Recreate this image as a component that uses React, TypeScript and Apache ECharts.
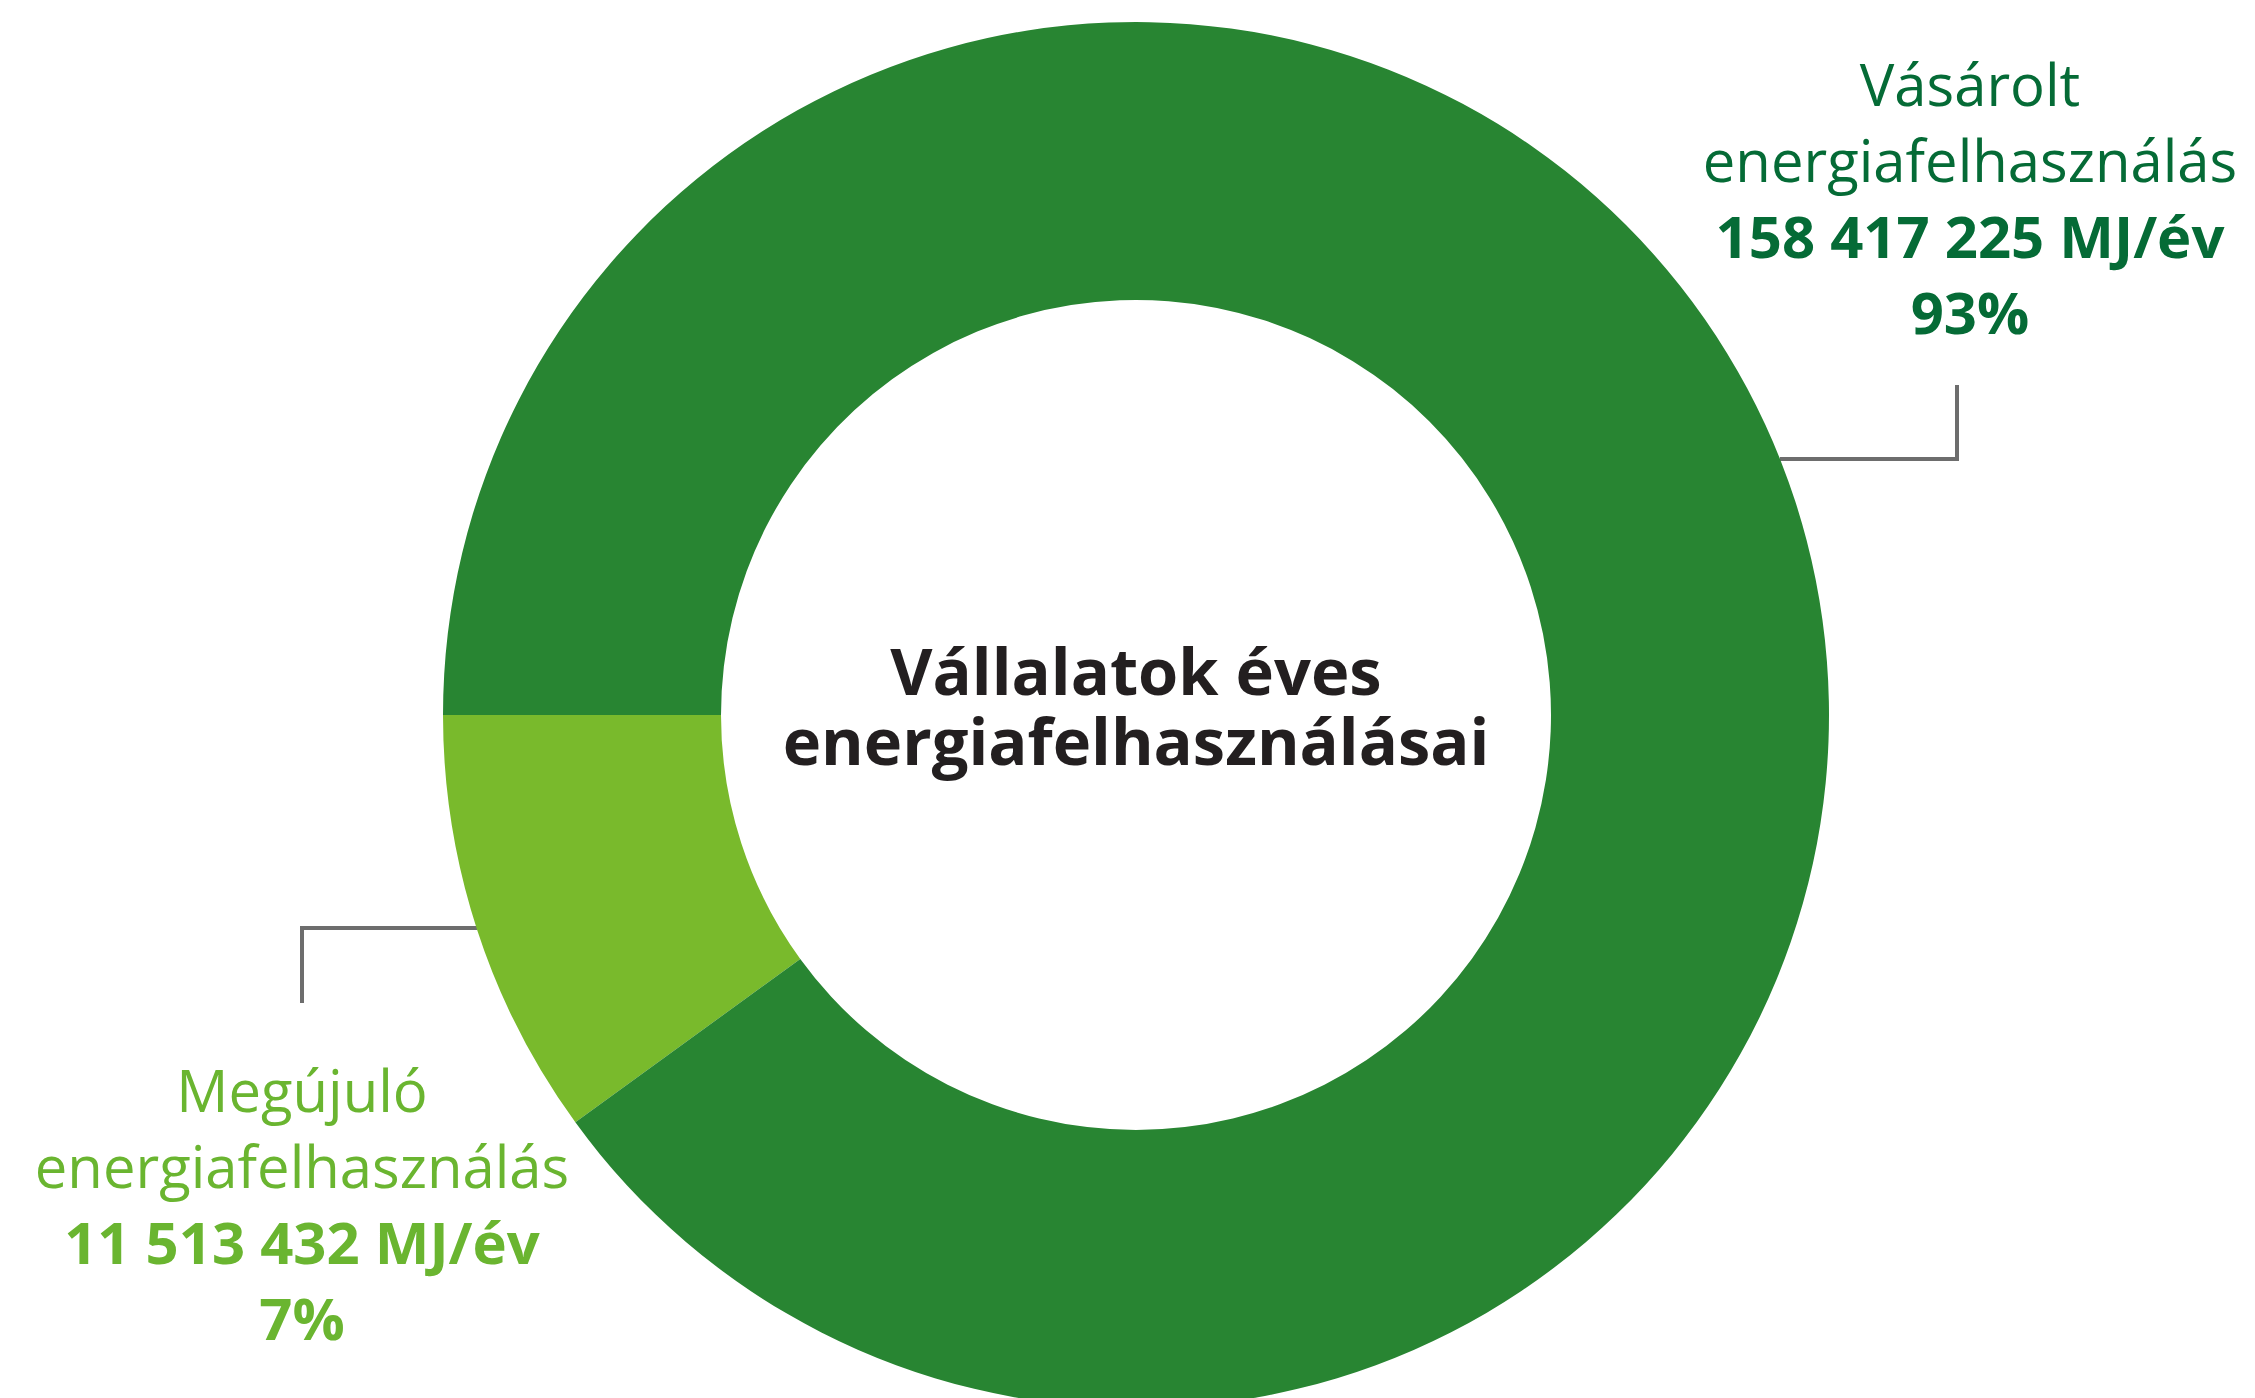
import React, { useEffect, useRef } from "react";
import * as echarts from "echarts";

// ---- data ----
const categories = ["Megújuló energiafelhasználás", "Vásárolt energiafelhasználás"];
const energyMJ = [11513432, 158417225];
const energyLabels = ["11 513 432 MJ/év", "158 417 225 MJ/év"];
const percentLabels = ["7%", "93%"];
// slice sizes as they are drawn in the reference (the light slice spans ~36°)
const drawnShares = [10, 90];
const nameLines = [
  ["Megújuló", "energiafelhasználás"],
  ["Vásárolt", "energiafelhasználás"],
];
const titleLines = ["Vállalatok éves", "energiafelhasználásai"];

const sliceColors = ["#79ba2c", "#288532"];
const labelColors = ["#6ab530", "#056b36"];
const FONT = "'Open Sans', 'Noto Sans', sans-serif";

export default function App() {
  const ref = useRef<HTMLDivElement>(null);

  useEffect(() => {
    document.body.style.margin = "0";
    if (!ref.current) return;
    const chart = echarts.init(ref.current, undefined, { renderer: "svg" });

    const cx = 1136;
    const cy = 715;
    const fs = 58;
    const lh = 76;
    const base = (b: number, size: number) => b - size * 0.35;

    const labelBlock = (i: number, x: number, firstBaseline: number) => {
      const lines = [
        { t: nameLines[i][0], w: 400 },
        { t: nameLines[i][1], w: 400 },
        { t: energyLabels[i], w: 700 },
        { t: percentLabels[i], w: 700 },
      ];
      return lines.map((l, k) => ({
        type: "text",
        style: {
          text: l.t,
          x,
          y: base(firstBaseline + k * lh, fs),
          fill: labelColors[i],
          font: `${l.w} ${fs}px ${FONT}`,
          textAlign: "center",
          textVerticalAlign: "middle",
        },
      }));
    };

    const titleSize = 65;
    const graphics: any[] = [
      {
        type: "text",
        style: {
          text: titleLines.join("\n"),
          x: cx,
          y: 705,
          fill: "#231f20",
          font: `700 ${titleSize}px ${FONT}`,
          lineHeight: 70,
          textAlign: "center",
          textVerticalAlign: "middle",
        },
      },
      ...labelBlock(0, 302, 1110),
      ...labelBlock(1, 1970, 104),
      {
        type: "polyline",
        shape: { points: [[477, 928], [302, 928], [302, 1003]] },
        style: { stroke: "#6d6d6d", lineWidth: 4, fill: "none" },
      },
      {
        type: "polyline",
        shape: { points: [[1780, 459], [1957, 459], [1957, 385]] },
        style: { stroke: "#6d6d6d", lineWidth: 4, fill: "none" },
      },
    ];

    chart.setOption({
      animation: false,
      backgroundColor: "#ffffff",
      series: [
        {
          type: "pie",
          center: [cx, cy],
          radius: [415, 693],
          startAngle: 216,
          clockwise: true,
          silent: true,
          label: { show: false },
          labelLine: { show: false },
          itemStyle: { borderWidth: 0 },
          data: categories.map((name, i) => ({
            name,
            value: drawnShares[i],
            mj: energyMJ[i],
            itemStyle: { color: sliceColors[i] },
          })),
        },
      ],
      graphic: graphics,
    });

    return () => chart.dispose();
  }, []);

  return <div ref={ref} style={{ width: "100vw", height: "100vh" }} />;
}
